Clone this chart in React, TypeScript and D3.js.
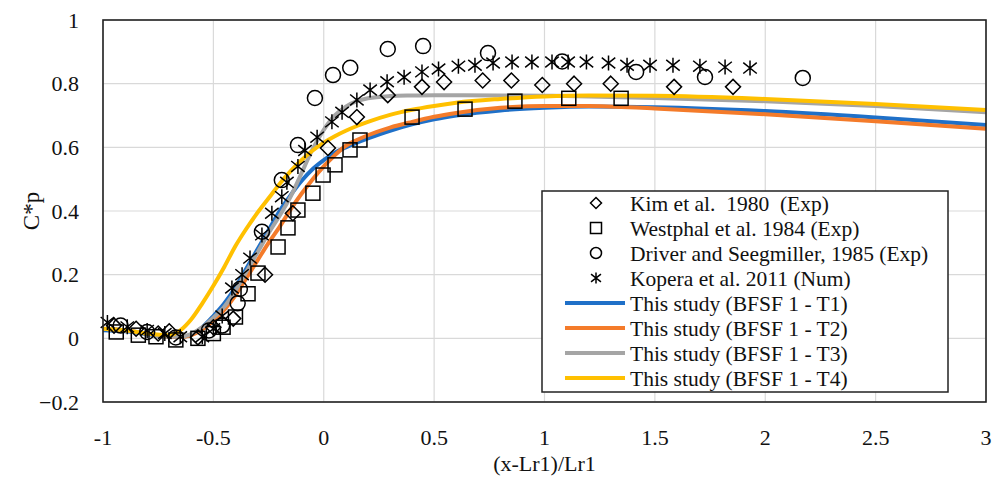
import React from "react";
import * as d3 from "d3";

// Axis ticks
const xTicks = [-1, -0.5, 0, 0.5, 1, 1.5, 2, 2.5, 3];
const yTicks = [-0.2, 0, 0.2, 0.4, 0.6, 0.8, 1];

// Kim et al. 1980 (Exp)
const kimX = [-0.95, -0.85, -0.75, -0.7, -0.57, -0.5, -0.41, -0.266, -0.14, 0.019, 0.15, 0.29, 0.445, 0.545, 0.72, 0.85, 0.99, 1.134, 1.3, 1.587, 1.854];
const kimY = [0.04, 0.03, 0.015, 0.022, 0.003, 0.035, 0.062, 0.2, 0.393, 0.598, 0.695, 0.764, 0.79, 0.805, 0.81, 0.81, 0.796, 0.8, 0.8, 0.79, 0.79];

// Westphal et al. 1984 (Exp)
const westX = [-0.94, -0.84, -0.76, -0.67, -0.57, -0.5, -0.456, -0.4, -0.343, -0.298, -0.207, -0.162, -0.117, -0.049, -0.003, 0.051, 0.119, 0.164, 0.4, 0.64, 0.866, 1.11, 1.347];
const westY = [0.02, 0.01, 0.005, -0.005, 0.0, 0.015, 0.035, 0.067, 0.14, 0.205, 0.287, 0.347, 0.403, 0.456, 0.513, 0.545, 0.592, 0.623, 0.695, 0.72, 0.745, 0.754, 0.754];

// Driver and Seegmiller, 1985 (Exp)
const drivX = [-0.92, -0.8, -0.67, -0.52, -0.46, -0.39, -0.38, -0.28, -0.19, -0.117, -0.04, 0.042, 0.12, 0.29, 0.45, 0.744, 1.08, 1.415, 1.727, 2.17];
const drivY = [0.04, 0.02, 0.003, 0.025, 0.04, 0.11, 0.155, 0.335, 0.497, 0.607, 0.755, 0.827, 0.85, 0.909, 0.918, 0.896, 0.87, 0.837, 0.821, 0.818];

// Kopera et al. 2011 (Num)
const kopX = [-0.98, -0.89, -0.8, -0.72, -0.65, -0.55, -0.5, -0.46, -0.416, -0.37, -0.334, -0.28, -0.235, -0.19, -0.167, -0.117, -0.085, -0.03, 0.037, 0.083, 0.15, 0.21, 0.287, 0.364, 0.445, 0.52, 0.61, 0.685, 0.767, 0.853, 0.943, 1.034, 1.107, 1.19, 1.29, 1.374, 1.478, 1.582, 1.704, 1.818, 1.931];
const kopY = [0.05, 0.036, 0.025, 0.015, 0.005, 0.005, 0.03, 0.07, 0.158, 0.2, 0.252, 0.325, 0.393, 0.445, 0.49, 0.54, 0.59, 0.632, 0.68, 0.71, 0.749, 0.78, 0.806, 0.82, 0.837, 0.846, 0.855, 0.858, 0.865, 0.868, 0.868, 0.868, 0.868, 0.868, 0.865, 0.858, 0.858, 0.858, 0.855, 0.852, 0.849];

// This study (BFSF 1) – shared abscissa for T1..T4
const studyX = [-1, -0.9, -0.8, -0.7, -0.65, -0.6, -0.55, -0.5, -0.45, -0.4, -0.35, -0.3, -0.25, -0.2, -0.15, -0.1, -0.05, 0, 0.05, 0.1, 0.15, 0.2, 0.3, 0.4, 0.5, 0.6, 0.8, 1.0, 1.2, 1.5, 2.0, 2.5, 3.0];
const t1Y = [0.025, 0.022, 0.013, 0.005, 0.004, 0.012, 0.035, 0.07, 0.11, 0.16, 0.22, 0.28, 0.34, 0.4, 0.45, 0.495, 0.532, 0.56, 0.583, 0.6, 0.615, 0.628, 0.652, 0.672, 0.688, 0.7, 0.716, 0.724, 0.728, 0.726, 0.714, 0.694, 0.67];
const t2Y = [0.03, 0.025, 0.015, 0.005, 0.004, 0.01, 0.028, 0.055, 0.09, 0.135, 0.19, 0.245, 0.3, 0.35, 0.405, 0.455, 0.5, 0.54, 0.575, 0.605, 0.623, 0.638, 0.662, 0.68, 0.696, 0.708, 0.724, 0.73, 0.73, 0.722, 0.704, 0.682, 0.658];
const t3Y = [0.03, 0.025, 0.015, 0.005, 0.005, 0.014, 0.035, 0.065, 0.1, 0.15, 0.21, 0.27, 0.33, 0.385, 0.445, 0.52, 0.595, 0.655, 0.7, 0.728, 0.745, 0.754, 0.761, 0.763, 0.764, 0.764, 0.763, 0.762, 0.76, 0.755, 0.745, 0.73, 0.71];
const t4Y = [0.03, 0.025, 0.015, 0.01, 0.025, 0.06, 0.11, 0.165, 0.225, 0.29, 0.345, 0.395, 0.44, 0.485, 0.525, 0.56, 0.59, 0.615, 0.635, 0.652, 0.667, 0.68, 0.702, 0.718, 0.73, 0.74, 0.752, 0.76, 0.763, 0.762, 0.752, 0.736, 0.717];

const seriesNames = [
  "Kim et al.  1980  (Exp)",
  "Westphal et al. 1984 (Exp)",
  "Driver and Seegmiller, 1985 (Exp)",
  "Kopera et al. 2011 (Num)",
  "This study (BFSF 1 - T1)",
  "This study (BFSF 1 - T2)",
  "This study (BFSF 1 - T3)",
  "This study (BFSF 1 - T4)",
];
const lineColors = ["#1F70C8", "#F47B2A", "#A5A5A5", "#FFC000"];

const W = 1000;
const H = 477;
const margin = { left: 103, right: 14, top: 20, bottom: 75 };
const FONT = "'Liberation Serif', 'Times New Roman', serif";

type MarkerKind = "diamond" | "square" | "circle" | "star";

function Marker({ kind, cx, cy, s }: { kind: MarkerKind; cx: number; cy: number; s: number }) {
  const common = { fill: "none", stroke: "#000", strokeWidth: 1.5 };
  if (kind === "diamond") {
    const d = `M${cx},${cy - s}L${cx + s},${cy}L${cx},${cy + s}L${cx - s},${cy}Z`;
    return <path d={d} {...common} />;
  }
  if (kind === "square") {
    return <rect x={cx - s} y={cy - s} width={2 * s} height={2 * s} {...common} />;
  }
  if (kind === "circle") {
    return <circle cx={cx} cy={cy} r={s} {...common} />;
  }
  const a = s * 0.9;
  const d = `M${cx},${cy - s}L${cx},${cy + s}M${cx - a},${cy - a * 0.8}L${cx + a},${cy + a * 0.8}M${cx - a},${cy + a * 0.8}L${cx + a},${cy - a * 0.8}`;
  return <path d={d} {...common} />;
}

export default function App() {
  const x = d3.scaleLinear().domain([-1, 3]).range([margin.left, W - margin.right]);
  const y = d3.scaleLinear().domain([-0.2, 1]).range([H - margin.bottom, margin.top]);

  const line = d3
    .line<[number, number]>()
    .x((d) => x(d[0]))
    .y((d) => y(d[1]))
    .curve(d3.curveMonotoneX);

  const curves = [t1Y, t2Y, t3Y, t4Y].map((ys) => studyX.map((v, i) => [v, ys[i]] as [number, number]));

  const scatter: { kind: MarkerKind; xs: number[]; ys: number[]; s: number }[] = [
    { kind: "diamond", xs: kimX, ys: kimY, s: 7.5 },
    { kind: "square", xs: westX, ys: westY, s: 7 },
    { kind: "circle", xs: drivX, ys: drivY, s: 7.5 },
    { kind: "star", xs: kopX, ys: kopY, s: 7.5 },
  ];

  const x0 = x(-1);
  const x1 = x(3);
  const y0 = y(-0.2);
  const y1 = y(1);

  // legend layout
  const lg = { x: 542, y: 191, w: 406, h: 201, row0: 203, step: 25, mark: 596, text: 630 };

  return (
    <svg width={W} height={H} style={{ position: "absolute", left: 0, top: 0, background: "#fff" }} fontFamily={FONT}>
      <rect x={0} y={0} width={W} height={H} fill="#fff" />
      {/* grid */}
      {yTicks.map((t) => (
        <line key={"gy" + t} x1={x0} x2={x1} y1={y(t)} y2={y(t)} stroke="#d9d9d9" strokeWidth={1.2} />
      ))}
      {xTicks.map((t) => (
        <line key={"gx" + t} x1={x(t)} x2={x(t)} y1={y0} y2={y1} stroke="#d9d9d9" strokeWidth={1.2} />
      ))}

      {/* study curves */}
      {curves.map((c, i) => (
        <path key={"c" + i} d={line(c) || ""} fill="none" stroke={lineColors[i]} strokeWidth={4} strokeLinejoin="round" />
      ))}

      {/* reference data */}
      {scatter.map((sr) =>
        sr.xs.map((v, i) => <Marker key={sr.kind + i} kind={sr.kind} cx={x(v)} cy={y(sr.ys[i])} s={sr.s} />)
      )}

      {/* frame */}
      <rect x={x0} y={y1} width={x1 - x0} height={y0 - y1} fill="none" stroke="#222" strokeWidth={1.6} />

      {/* y tick labels */}
      {yTicks.map((t) => (
        <text key={"yl" + t} x={79} y={y(t)} dy="0.35em" textAnchor="end" fontSize={22} fill="#111">
          {d3.format("")(Number(t.toFixed(1)))}
        </text>
      ))}
      {/* x tick labels */}
      {xTicks.map((t) => (
        <text key={"xl" + t} x={x(t)} y={437} dy="0.35em" textAnchor="middle" fontSize={22} fill="#111">
          {String(t)}
        </text>
      ))}

      {/* axis titles */}
      <text x={(x0 + x1) / 2} y={463} dy="0.35em" textAnchor="middle" fontSize={22} fill="#111">
        (x-Lr1)/Lr1
      </text>
      <text transform={`translate(31,${(y0 + y1) / 2}) rotate(-90)`} textAnchor="middle" dy="0.35em" fontSize={23} fill="#111">
        C*p
      </text>

      {/* legend */}
      <rect x={lg.x} y={lg.y} width={lg.w} height={lg.h} fill="#fff" stroke="#222" strokeWidth={1.5} />
      {seriesNames.map((name, i) => {
        const cy = lg.row0 + i * lg.step;
        return (
          <g key={"lg" + i}>
            {i < 4 ? (
              <Marker kind={scatter[i].kind} cx={lg.mark} cy={cy} s={5.5} />
            ) : (
              <line x1={565} x2={625} y1={cy} y2={cy} stroke={lineColors[i - 4]} strokeWidth={4} />
            )}
            <text x={lg.text} y={cy} dy="0.35em" fontSize={21.5} fill="#111" style={{ whiteSpace: "pre" }}>
              {name}
            </text>
          </g>
        );
      })}
    </svg>
  );
}
